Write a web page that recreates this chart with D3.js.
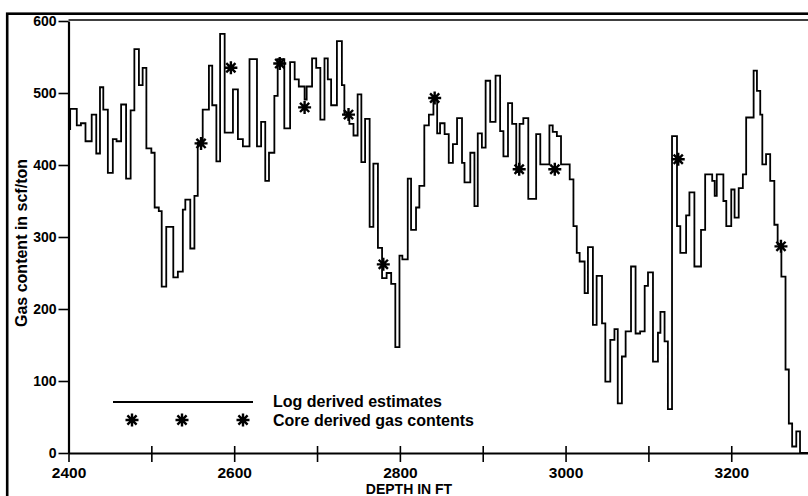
<!DOCTYPE html>
<html>
<head>
<meta charset="utf-8">
<script src="https://cdn.jsdelivr.net/npm/d3@7"></script>
<style>
  body { margin: 0; background: #fff; }
  svg { display: block; }
  text { font-family: "Liberation Sans", Arial, sans-serif; font-weight: bold; fill: #000; }
</style>
</head>
<body>
<div id="chart"></div>
<script>
// log derived estimates: each step starts at stepDepth[i] with value stepGas[i]
const stepDepth = [
  2400, 2402, 2410, 2415, 2420.5, 2428, 2433.5, 2438, 2442, 2447.5,
  2453.5, 2458, 2463.5, 2469.5, 2475, 2479.5, 2485, 2489.5, 2494, 2500,
  2504, 2509, 2512.5, 2518, 2526.5, 2532, 2538, 2541, 2547, 2552,
  2556, 2562, 2569.5, 2573.5, 2578.5, 2583, 2588.5, 2598.5, 2604.5, 2610.5,
  2618.5, 2627.5, 2632.5, 2637.5, 2642, 2648.5, 2652.5, 2660.5, 2667.5, 2673,
  2678, 2685, 2687.5, 2694, 2699, 2704, 2709, 2713, 2717, 2724,
  2730, 2733, 2739, 2744, 2749, 2753.5, 2758, 2763.5, 2768, 2773.5,
  2778.5, 2784, 2789.5, 2794.5, 2799.5, 2803, 2809.5, 2813.5, 2819.5, 2823.5,
  2829.5, 2835, 2840.5, 2845, 2848.5, 2854, 2859, 2864, 2869, 2875,
  2878, 2885, 2890, 2894, 2899, 2903.5, 2909, 2915.5, 2921, 2925,
  2930.5, 2935.5, 2940.5, 2944.5, 2949, 2955, 2964.5, 2969.5, 2980.5, 2984.5,
  2989.5, 2994.5, 3005, 3009.5, 3013.5, 3017, 3023, 3027, 3033, 3037.5,
  3044, 3048, 3054, 3059, 3063, 3068, 3072.5, 3079, 3084.5, 3090,
  3095.5, 3099.5, 3105.5, 3111.5, 3114.5, 3119.5, 3123.5, 3128.5, 3134.5, 3138.5,
  3145.5, 3149.5, 3155.5, 3163.5, 3168.5, 3177, 3180, 3182.5, 3190.5, 3194,
  3200, 3204, 3209, 3214, 3218, 3227, 3231, 3235, 3237.5, 3242,
  3247, 3252, 3256, 3260.5, 3265.5, 3269.5, 3273.5, 3278.5, 3283
];
const stepGas = [
  450, 478, 455, 458, 433, 470, 416, 508, 477, 389,
  436, 433, 484, 381, 476, 561, 511, 535, 423, 417,
  341, 336, 231, 314, 244, 252, 338, 352, 284, 357,
  431, 477, 538, 483, 405, 582, 445, 505, 436, 426,
  547, 426, 460, 378, 417, 496, 547, 451, 543, 519,
  509, 491, 509, 548, 535, 463, 548, 519, 483, 572,
  511, 470, 457, 441, 498, 404, 464, 314, 402, 285,
  243, 250, 235, 147, 274, 269, 381, 310, 341, 371,
  455, 470, 491, 444, 458, 443, 403, 429, 465, 403,
  376, 417, 343, 444, 424, 517, 460, 524, 447, 412,
  486, 457, 390, 457, 465, 353, 443, 401, 455, 446,
  440, 401, 380, 315, 278, 266, 222, 286, 178, 246,
  180, 99, 157, 172, 69, 134, 169, 259, 166, 169,
  232, 251, 127, 167, 196, 155, 61, 440, 315, 278,
  330, 362, 259, 310, 387, 378, 357, 387, 350, 315,
  366, 327, 368, 387, 466, 531, 503, 470, 401, 415,
  378, 317, 290, 245, 116, 41, 9, 30, 0
];
const endDepth = 3300;

// core derived gas contents
const coreDepth = [2560, 2596, 2655, 2685, 2738, 2780, 2842, 2944, 2987, 3136, 3260];
const coreGas = [430, 535, 541, 480, 470, 262, 493, 394, 394, 408, 287];

const xTickValues = [2400, 2500, 2600, 2700, 2800, 2900, 3000, 3100, 3200];
const xTickLabels = [2400, 2600, 2800, 3000, 3200];
const yTickValues = [0, 100, 200, 300, 400, 500, 600];

const width = 808, height = 496;

const svg = d3.select("#chart")
  .append("svg")
  .attr("width", width)
  .attr("height", height);

const xScale = d3.scaleLinear().domain([2400, 3300]).range([68.5, 814.1]);
const yScale = d3.scaleLinear().domain([0, 600]).range([453, 21]);

// outer frame
svg.append("rect")
  .attr("x", 7.2).attr("y", 13.7)
  .attr("width", 900).attr("height", 600)
  .attr("fill", "none").attr("stroke", "#000").attr("stroke-width", 2.6);

// plot top border
svg.append("line")
  .attr("x1", xScale(2400)).attr("x2", width + 10)
  .attr("y1", 20).attr("y2", 20)
  .attr("stroke", "#000").attr("stroke-width", 1.6);

// y axis
const yAxis = svg.append("g")
  .attr("transform", "translate(" + xScale(2400) + ",0)")
  .call(d3.axisLeft(yScale).tickValues(yTickValues).tickSize(10).tickSizeOuter(0).tickPadding(2));
yAxis.select(".domain").attr("stroke-width", 2.2);
yAxis.selectAll(".tick line").attr("stroke-width", 1.6);
yAxis.selectAll(".tick text").style("font-size", "14px").style("font-family", "'Liberation Sans', Arial, sans-serif");

// x axis
const xAxis = svg.append("g")
  .attr("transform", "translate(0," + yScale(0) + ")")
  .call(d3.axisBottom(xScale)
    .tickValues(xTickValues)
    .tickSize(9)
    .tickSizeOuter(0)
    .tickPadding(5)
    .tickFormat(d => xTickLabels.includes(d) ? d : ""));
xAxis.select(".domain").attr("stroke-width", 2.2);
xAxis.selectAll(".tick line").attr("y1", -7).attr("stroke-width", 1.6);
xAxis.selectAll(".tick text").style("font-size", "15.5px").style("font-family", "'Liberation Sans', Arial, sans-serif");

// axis titles
svg.append("text")
  .attr("transform", "translate(26.5,243) rotate(-90)")
  .attr("text-anchor", "middle")
  .style("font-size", "16px")
  .text("Gas content in scf/ton");

svg.append("text")
  .attr("x", 409).attr("y", 494)
  .attr("text-anchor", "middle")
  .style("font-size", "14px")
  .text("DEPTH IN FT");

// step line
const stepPoints = stepDepth.map((d, i) => [d, stepGas[i]]);
stepPoints.push([endDepth, stepGas[stepGas.length - 1]]);

const line = d3.line()
  .x(d => xScale(d[0]))
  .y(d => yScale(d[1]))
  .curve(d3.curveStepAfter);

svg.append("path")
  .datum(stepPoints)
  .attr("fill", "none")
  .attr("stroke", "#000")
  .attr("stroke-width", 1.8)
  .attr("stroke-linejoin", "miter")
  .attr("d", line);

// asterisk marker
const starPath = "M-6.5,0H6.5M0,-6.5V6.5M-4.6,-4.6L4.6,4.6M-4.6,4.6L4.6,-4.6";

svg.selectAll(".core")
  .data(coreDepth.map((d, i) => [d, coreGas[i]]))
  .enter()
  .append("path")
  .attr("class", "core")
  .attr("transform", d => "translate(" + xScale(d[0]) + "," + yScale(d[1]) + ")")
  .attr("d", starPath)
  .attr("stroke", "#000")
  .attr("stroke-width", 2.4);

// legend
const legend = svg.append("g");
legend.append("line")
  .attr("x1", 113).attr("x2", 253)
  .attr("y1", 402).attr("y2", 402)
  .attr("stroke", "#000").attr("stroke-width", 2);
legend.selectAll(".lstar")
  .data([132, 182, 243])
  .enter()
  .append("path")
  .attr("class", "lstar")
  .attr("transform", d => "translate(" + d + ",420)")
  .attr("d", starPath)
  .attr("stroke", "#000")
  .attr("stroke-width", 2.4);
legend.append("text")
  .attr("x", 273).attr("y", 407)
  .style("font-size", "16px")
  .text("Log derived estimates");
legend.append("text")
  .attr("x", 273).attr("y", 426)
  .style("font-size", "16px")
  .text("Core derived gas contents");
</script>
</body>
</html>
